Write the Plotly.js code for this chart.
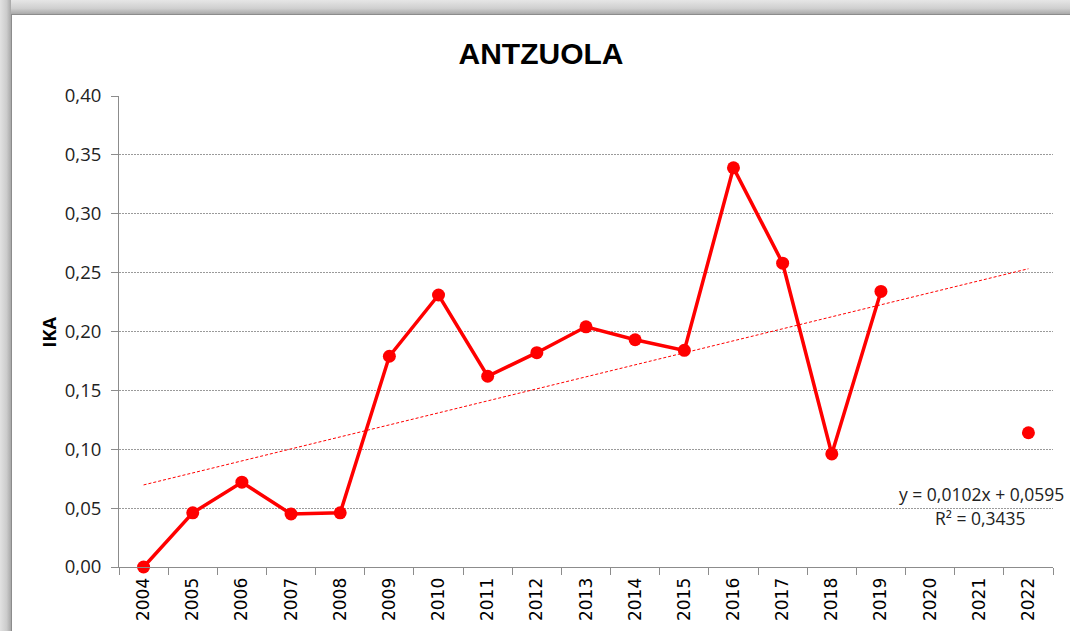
<!DOCTYPE html>
<html>
<head>
<meta charset="utf-8">
<script src="https://cdn.plot.ly/plotly-3.0.1.min.js"></script>
<style>
  html, body { margin:0; padding:0; width:1070px; height:631px; overflow:hidden; background:#ffffff; }
  #topbar { position:absolute; left:0; top:0; width:1070px; height:14px;
            background:linear-gradient(to bottom, #e6e6e6 0%, #cfcfcf 60%, #a9a9a9 100%); }
  #leftbar { position:absolute; left:0; top:0; width:11px; height:631px;
             background:linear-gradient(to right, #e2e2e2 0%, #cccccc 60%, #a8a8a8 100%); }
  #chart { position:absolute; left:11px; top:14px; width:1059px; height:617px;
           border-left:1px solid #8c8c8c; border-top:1px solid #8c8c8c; box-sizing:border-box; background:#fff; }
</style>
</head>
<body>
<div id="topbar"></div>
<div id="leftbar"></div>
<div id="chart"></div>
<script>
const years = ["2004","2005","2006","2007","2008","2009","2010","2011","2012","2013","2014","2015","2016","2017","2018","2019","2020","2021","2022"];
const ika = [0.000, 0.046, 0.072, 0.045, 0.046, 0.179, 0.231, 0.162, 0.182, 0.204, 0.193, 0.184, 0.339, 0.258, 0.096, 0.234, null, null, 0.114];
const trendSlope = 0.0102;
const trendIntercept = 0.0595;
const trendLabel = "y = 0,0102x + 0,0595";
const r2Label = "R² = 0,3435";
const yTicks = [0, 0.05, 0.10, 0.15, 0.20, 0.25, 0.30, 0.35, 0.40];

const trendY = years.map((_, i) => trendIntercept + trendSlope * (i + 1));

const data = [
  {
    x: years, y: trendY, type: "scatter", mode: "lines",
    line: { color: "#ff0000", width: 1, dash: "3px,2px" },
    hoverinfo: "skip", showlegend: false
  },
  {
    x: years, y: ika, type: "scatter", mode: "lines+markers",
    line: { color: "#ff0000", width: 3.5 },
    marker: { color: "#ff0000", size: 13 },
    connectgaps: false, cliponaxis: false, showlegend: false
  }
];

const layout = {
  width: 1058, height: 616,
  margin: { l: 107, r: 17, t: 81, b: 64 },
  paper_bgcolor: "#ffffff", plot_bgcolor: "#ffffff",
  separators: ",.",
  font: { family: "Open Sans, Liberation Sans, sans-serif", color: "#222" },
  title: { text: "<b>ANTZUOLA</b>", x: 0.5, xanchor: "center", y: 0.938, yanchor: "middle",
           font: { family: "Liberation Sans, Arial, sans-serif", size: 30, color: "#000" } },
  xaxis: {
    type: "category", range: [-0.5, 18.5], fixedrange: true,
    showline: true, linecolor: "#8c8c8c", linewidth: 1,
    ticks: "outside", tickson: "boundaries", ticklen: 7, tickcolor: "#8c8c8c",
    tickangle: -90, showgrid: false, ticklabelstandoff: 3,
    tickfont: { family: "'DejaVu Sans', Verdana, sans-serif", size: 17, color: "#000" }
  },
  yaxis: {
    range: [0, 0.4], fixedrange: true, tickvals: yTicks, tickformat: ".2f",
    showline: true, linecolor: "#8c8c8c", linewidth: 1,
    ticks: "outside", ticklen: 7, tickcolor: "#8c8c8c",
    showgrid: true, gridcolor: "#9a9a9a", gridwidth: 1, griddash: "2px,1px",
    zeroline: false, ticklabelstandoff: 6,
    tickfont: { family: "Open Sans, sans-serif", size: 18.5, color: "#222" }
  },
  annotations: [
    { text: "<b>IKA</b>", xref: "paper", yref: "paper", x: -0.075, y: 0.5,
      xanchor: "center", yanchor: "middle", textangle: -90, showarrow: false,
      font: { family: "Open Sans, sans-serif", size: 18, color: "#000" } },
    { text: trendLabel, xref: "paper", yref: "paper", x: 1.014, y: 0.155,
      xanchor: "right", yanchor: "middle", showarrow: false,
      font: { family: "Open Sans, sans-serif", size: 17.5, color: "#222" } },
    { text: r2Label, xref: "paper", yref: "paper", x: 0.922, y: 0.104,
      xanchor: "center", yanchor: "middle", showarrow: false,
      font: { family: "Open Sans, sans-serif", size: 17.5, color: "#222" } }
  ]
};

Plotly.newPlot("chart", data, layout, { displayModeBar: false, staticPlot: true });
</script>
</body>
</html>
